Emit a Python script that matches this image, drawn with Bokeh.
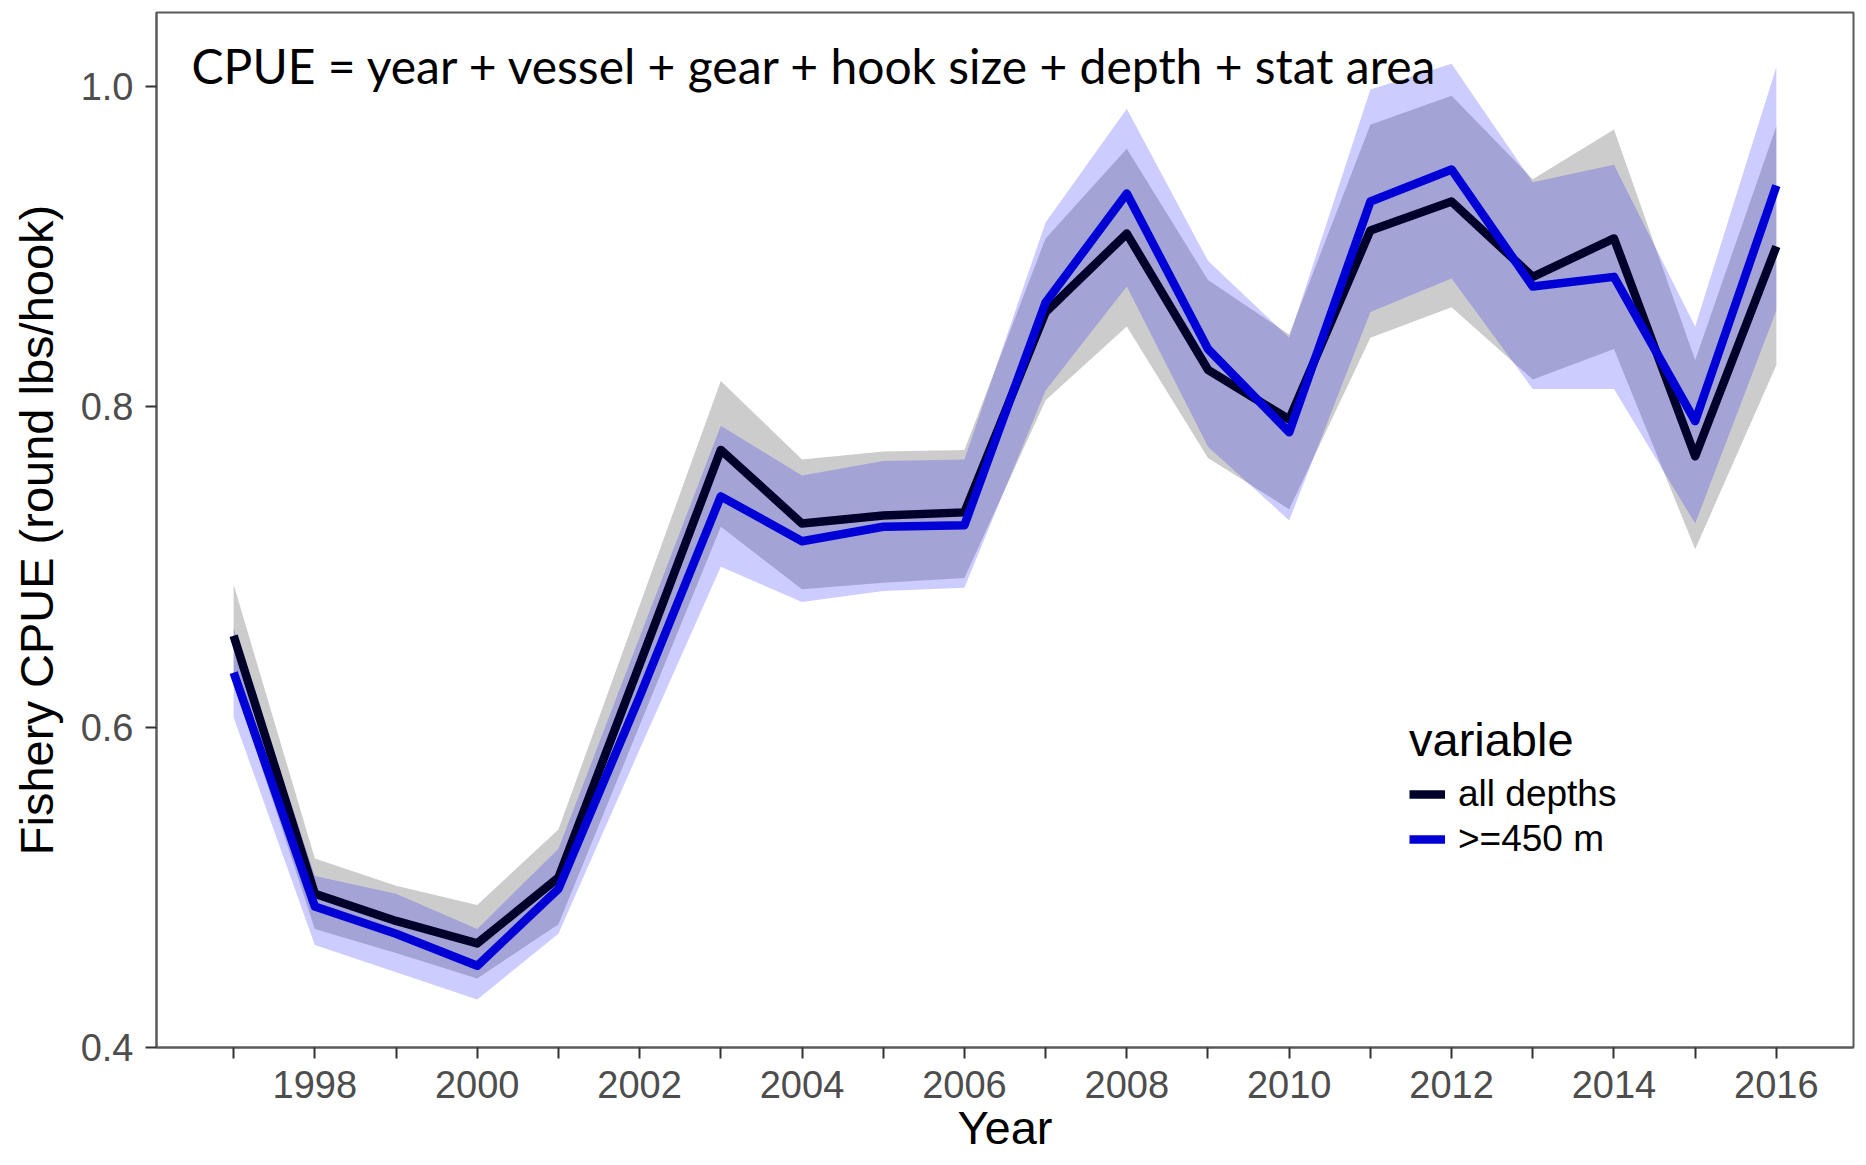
from bokeh.plotting import figure
from bokeh.models import (Range1d, FixedTicker, PrintfTickFormatter, Label,
                          Legend, LegendItem, ColumnDataSource)
from bokeh.embed import file_html
from bokeh.resources import INLINE

years = list(range(1997, 2017))

all_depths = [0.657, 0.496, 0.479, 0.465, 0.506, 0.639, 0.773, 0.727, 0.732, 0.734,
              0.859, 0.908, 0.823, 0.792, 0.910, 0.928, 0.881, 0.905, 0.769, 0.900]
all_lo = [0.628, 0.474, 0.459, 0.443, 0.477, 0.601, 0.725, 0.686, 0.690, 0.693,
          0.804, 0.850, 0.768, 0.736, 0.843, 0.862, 0.817, 0.836, 0.711, 0.826]
all_hi = [0.689, 0.518, 0.501, 0.489, 0.536, 0.676, 0.816, 0.767, 0.772, 0.773,
          0.905, 0.961, 0.879, 0.845, 0.976, 0.994, 0.942, 0.973, 0.829, 0.975]

deep = [0.634, 0.488, 0.471, 0.451, 0.499, 0.619, 0.744, 0.716, 0.725, 0.726,
        0.865, 0.933, 0.836, 0.784, 0.928, 0.948, 0.875, 0.881, 0.791, 0.938]
deep_lo = [0.606, 0.464, 0.447, 0.430, 0.471, 0.586, 0.700, 0.678, 0.685, 0.687,
           0.810, 0.875, 0.775, 0.729, 0.859, 0.880, 0.811, 0.811, 0.727, 0.860]
deep_hi = [0.662, 0.507, 0.496, 0.474, 0.524, 0.656, 0.788, 0.757, 0.766, 0.767,
           0.915, 0.986, 0.891, 0.843, 0.998, 1.014, 0.940, 0.951, 0.850, 1.012]

series_names = ["all depths", ">=450 m"]
legend_title = "variable"
x_ticks_major = [1998, 2000, 2002, 2004, 2006, 2008, 2010, 2012, 2014, 2016]
x_ticks_minor = [1997, 1999, 2001, 2003, 2005, 2007, 2009, 2011, 2013, 2015]
y_ticks = [0.4, 0.6, 0.8, 1.0]
model_text = "CPUE = year + vessel + gear + hook size + depth + stat area"
x_title = "Year"
y_title = "Fishery CPUE (round lbs/hook)"

X0, X1 = 1996.05, 2016.95

src = ColumnDataSource(dict(year=years, a=all_depths, alo=all_lo, ahi=all_hi,
                            d=deep, dlo=deep_lo, dhi=deep_hi))

p = figure(width=1858, height=1165, output_backend="svg", toolbar_location=None,
           x_range=Range1d(X0, X1), y_range=Range1d(0.4, 1.046),
           min_border_left=156, min_border_right=5, min_border_top=12,
           min_border_bottom=118)

p.background_fill_color = "white"
p.border_fill_color = "white"
p.outline_line_color = "#5a5a5a"
p.outline_line_width = 2
p.xgrid.visible = False
p.ygrid.visible = False

p.varea(x="year", y1="alo", y2="ahi", source=src, fill_color="#cccccc", fill_alpha=1.0)
p.varea(x="year", y1="dlo", y2="dhi", source=src, fill_color="#0000ff", fill_alpha=0.2)

r_all = p.line(x="year", y="a", source=src, line_color="#00002a", line_width=8.5,
               line_join="round")
r_deep = p.line(x="year", y="d", source=src, line_color="#0000d6", line_width=8.5,
                line_join="round")

# axes
p.xaxis.ticker = FixedTicker(ticks=x_ticks_major, minor_ticks=x_ticks_minor)
p.yaxis.ticker = FixedTicker(ticks=y_ticks)
p.yaxis.formatter = PrintfTickFormatter(format="%.1f")
for ax in (p.xaxis, p.yaxis):
    ax.axis_line_color = "#5a5a5a"
    ax.axis_line_width = 2
    ax.major_tick_line_color = "#333333"
    ax.major_tick_line_width = 2
    ax.major_tick_out = 11
    ax.major_tick_in = 0
    ax.minor_tick_line_color = "#333333"
    ax.minor_tick_line_width = 2
    ax.minor_tick_out = 11
    ax.minor_tick_in = 0
    ax.major_label_text_font = "Liberation Sans"
    ax.major_label_text_font_size = "38px"
    ax.major_label_text_color = "#4d4d4d"
    ax.axis_label_text_font = "Liberation Sans"
    ax.axis_label_text_font_size = "47px"
    ax.axis_label_text_font_style = "normal"
    ax.axis_label_text_color = "black"
p.yaxis.minor_tick_line_color = None
p.yaxis.axis_label = y_title
p.xaxis.axis_label = x_title
p.xaxis.major_label_standoff = 12
p.yaxis.major_label_standoff = 12
p.xaxis.axis_label_standoff = 0
p.yaxis.axis_label_standoff = 15

p.add_layout(Label(x=35, y=982, x_units="screen", y_units="screen", text=model_text,
                   text_font="Lato", text_font_size="48px", text_color="black",
                   text_baseline="alphabetic"))

legend = Legend(items=[LegendItem(label=series_names[0], renderers=[r_all]),
                       LegendItem(label=series_names[1], renderers=[r_deep])],
                title=legend_title, location=(1253, 187))
legend.title_text_font = "Liberation Sans"
legend.title_text_font_size = "47px"
legend.title_text_font_style = "normal"
legend.title_text_color = "black"
legend.label_text_font = "Liberation Sans"
legend.label_text_font_size = "37px"
legend.label_text_color = "black"
legend.glyph_width = 36
legend.glyph_height = 20
legend.label_standoff = 13
legend.spacing = 3
legend.padding = 0
legend.margin = 0
legend.title_standoff = 6
legend.border_line_alpha = 0
legend.background_fill_alpha = 0
p.add_layout(legend)

open("out.html", "w").write(file_html(p, INLINE))
